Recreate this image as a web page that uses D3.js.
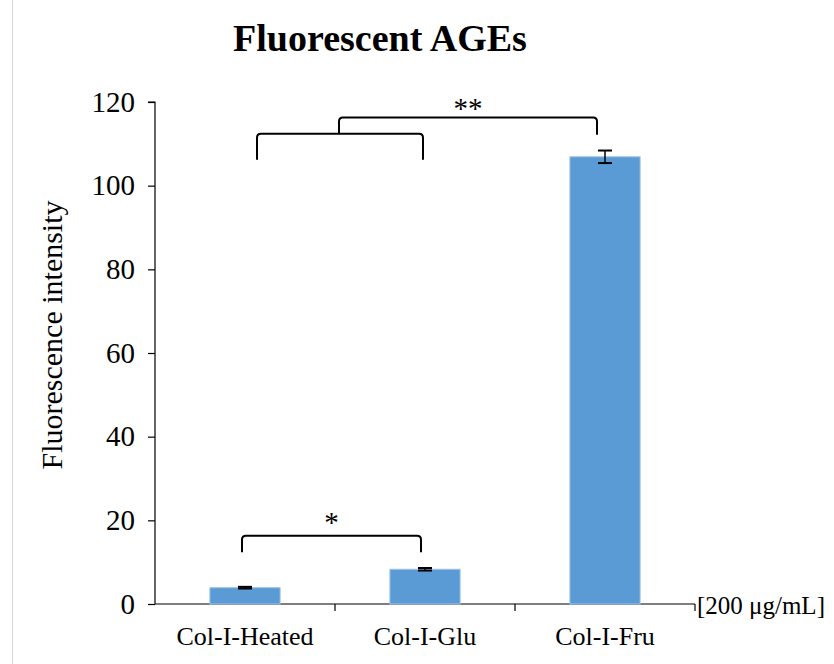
<!DOCTYPE html>
<html>
<head>
<meta charset="utf-8">
<script src="https://cdn.jsdelivr.net/npm/d3@7"></script>
<style>
  html, body { margin: 0; padding: 0; background: #fff; }
  svg { display: block; }
</style>
</head>
<body>
<div id="chart"></div>
<script>
// Fluorescent AGE intensity per collagen preparation
const categories = ["Col-I-Heated", "Col-I-Glu", "Col-I-Fru"];
const values = [3.9, 8.3, 106.9];
const errors = [0.2, 0.3, 1.5];
const yTicks = [0, 20, 40, 60, 80, 100, 120];

// significance brackets: [from index, to index, bar level, leg bottom, label]
const brackets = [
  { from: 0, to: 1, level: 16.3, legEnd: 12.4, label: "*" }
];

const width = 834, height = 664;
const margin = { top: 102, right: 139, bottom: 60, left: 155 };

const svg = d3.select("#chart").append("svg")
  .attr("width", width).attr("height", height);

const serif = "'Liberation Serif', 'Times New Roman', serif";

// faint frame edge on the left
svg.append("line")
  .attr("x1", 12.5).attr("x2", 12.5).attr("y1", 0).attr("y2", height)
  .attr("stroke", "#d9d9d9").attr("stroke-width", 1);

const x = d3.scaleBand()
  .domain(categories)
  .range([margin.left, width - margin.right])
  .paddingInner(0.61).paddingOuter(0.305);

const y = d3.scaleLinear()
  .domain([0, 120])
  .range([height - margin.bottom, margin.top]);

// title
svg.append("text")
  .attr("x", 380).attr("y", 51)
  .attr("text-anchor", "middle")
  .attr("font-family", serif).attr("font-weight", "bold")
  .attr("font-size", 38)
  .text("Fluorescent AGEs");

// y axis
const yAxis = svg.append("g")
  .attr("transform", `translate(${margin.left},0)`)
  .call(d3.axisLeft(y).tickValues(yTicks).tickSize(7).tickPadding(13));
yAxis.selectAll("path, line").attr("stroke", "#000").attr("stroke-width", 1.2);
yAxis.selectAll("text")
  .attr("font-family", serif).attr("font-size", 29).attr("fill", "#000");
yAxis.select(".domain").attr("d", `M-7,${y(120)}H0V${y(0)}`);

// x axis with ticks at category boundaries
const x0 = margin.left, x1 = width - margin.right;
const step = (x1 - x0) / categories.length;
const xg = svg.append("g");
xg.append("line")
  .attr("x1", x0).attr("x2", x1).attr("y1", y(0)).attr("y2", y(0))
  .attr("stroke", "#000").attr("stroke-width", 1.2);
xg.selectAll("line.tick")
  .data(d3.range(1, categories.length + 1))
  .join("line").attr("class", "tick")
  .attr("x1", i => x0 + i * step).attr("x2", i => x0 + i * step)
  .attr("y1", y(0)).attr("y2", y(0) + 7)
  .attr("stroke", "#000").attr("stroke-width", 1.2);
xg.selectAll("text")
  .data(categories)
  .join("text")
  .attr("x", d => x(d) + x.bandwidth() / 2)
  .attr("y", 645)
  .attr("text-anchor", "middle")
  .attr("font-family", serif).attr("font-size", 26)
  .text(d => d);

svg.append("text")
  .attr("x", 697).attr("y", 614)
  .attr("font-family", serif).attr("font-size", 25)
  .text("[200 μg/mL]");

// y axis title
svg.append("text")
  .attr("transform", `translate(62,335) rotate(-90)`)
  .attr("text-anchor", "middle")
  .attr("font-family", serif).attr("font-size", 30)
  .text("Fluorescence intensity");

// bars
svg.selectAll("rect.bar")
  .data(categories)
  .join("rect").attr("class", "bar")
  .attr("x", d => x(d))
  .attr("y", (d, i) => y(values[i]))
  .attr("width", x.bandwidth())
  .attr("height", (d, i) => y(0) - y(values[i]))
  .attr("fill", "#5b9bd5")
  .attr("stroke", "#9dc3e6").attr("stroke-width", 1);

// error bars
const cap = 7;
const eb = svg.selectAll("g.err").data(categories).join("g").attr("class", "err");
eb.append("line")
  .attr("x1", d => x(d) + x.bandwidth() / 2).attr("x2", d => x(d) + x.bandwidth() / 2)
  .attr("y1", (d, i) => y(values[i] - errors[i])).attr("y2", (d, i) => y(values[i] + errors[i]))
  .attr("stroke", "#000").attr("stroke-width", 1.5);
eb.append("line")
  .attr("x1", d => x(d) + x.bandwidth() / 2 - cap).attr("x2", d => x(d) + x.bandwidth() / 2 + cap)
  .attr("y1", (d, i) => y(values[i] + errors[i])).attr("y2", (d, i) => y(values[i] + errors[i]))
  .attr("stroke", "#000").attr("stroke-width", 2);
eb.append("line")
  .attr("x1", d => x(d) + x.bandwidth() / 2 - cap).attr("x2", d => x(d) + x.bandwidth() / 2 + cap)
  .attr("y1", (d, i) => y(values[i] - errors[i])).attr("y2", (d, i) => y(values[i] - errors[i]))
  .attr("stroke", "#000").attr("stroke-width", 2);

// bracket path with rounded corners
function bracketPath(xa, xb, yTop, yBotA, yBotB) {
  const r = 4;
  return `M${xa},${yBotA}V${yTop + r}Q${xa},${yTop} ${xa + r},${yTop}` +
         `H${xb - r}Q${xb},${yTop} ${xb},${yTop + r}V${yBotB}`;
}
const cx = i => x(categories[i]) + x.bandwidth() / 2;
const sig = svg.append("g").attr("fill", "none").attr("stroke", "#000").attr("stroke-width", 2);

brackets.forEach(b => {
  const xa = cx(b.from) - 3, xb = cx(b.to) - 4;
  sig.append("path").attr("d", bracketPath(xa, xb, y(b.level), y(b.legEnd), y(b.legEnd)));
  svg.append("text")
    .attr("x", (xa + xb) / 2).attr("y", y(b.level) - 4)
    .attr("text-anchor", "middle")
    .attr("font-family", serif).attr("font-size", 29)
    .text(b.label);
});

// grouped comparison: Heated + Glu versus Fru
const groupLevel = 112.4, groupLeg = 106.2;
const outerLevel = 116.3, outerLeg = 112.2;
const gA = cx(0) + 12, gB = cx(1) - 2;
sig.append("path").attr("d", bracketPath(gA, gB, y(groupLevel), y(groupLeg), y(groupLeg)));
const oA = (gA + gB) / 2 - 1, oB = cx(2) - 8;
sig.append("path").attr("d", bracketPath(oA, oB, y(outerLevel), y(groupLevel), y(outerLeg)));
svg.append("text")
  .attr("x", (oA + oB) / 2).attr("y", y(outerLevel) + 1)
  .attr("text-anchor", "middle")
  .attr("font-family", serif).attr("font-size", 29)
  .text("**");
</script>
</body>
</html>
